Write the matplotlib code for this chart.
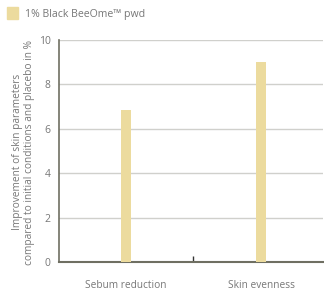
import matplotlib
matplotlib.use("Agg")

import matplotlib.pyplot as plt
from matplotlib.patches import Patch

categories = ["Sebum reduction", "Skin evenness"]
values = [6.85, 9.0]
series_name = "1% Black BeeOme\u2122 pwd"
yticks = [0, 2, 4, 6, 8, 10]

BAR = "#ecdb9e"
GRID = "#d0d0cc"
AXIS = "#6f6f62"
TEXT = "#777777"

plt.rcParams["font.family"] = ["Open Sans", "DejaVu Sans"]
plt.rcParams["font.size"] = 7.3

fig = plt.figure(figsize=(3.24, 2.95), dpi=100)
ax = fig.add_axes([0.182, 0.112, 0.815, 0.752])
ax.set_axisbelow(True)

pos = list(range(len(categories)))
ax.bar(pos, values, width=0.08, color=BAR, zorder=3)

ax.set_ylim(0, 10)
ax.set_xlim(-0.496, 1.459)
ax.set_yticks(yticks)
ax.set_yticklabels([str(t) for t in yticks], color=TEXT, fontsize=7.5)
ax.tick_params(axis="y", length=0, pad=6)
ax.yaxis.grid(True, color=GRID, lw=1.0)

ax.set_xticks(pos)
ax.set_xticklabels(categories, color=TEXT)
ax.tick_params(axis="x", length=0, pad=13)
ax.set_xticks([0.5], minor=True)
ax.tick_params(axis="x", which="minor", direction="in", length=4, width=1, color="#333333")

for side in ["top", "right"]:
    ax.spines[side].set_visible(False)
ax.spines["left"].set_color(AXIS)
ax.spines["left"].set_linewidth(1.2)
ax.spines["bottom"].set_color(AXIS)
ax.spines["bottom"].set_linewidth(1.5)

ax.set_ylabel("Improvement of skin parameters\ncompared to initial conditions and placebo in %",
              color=TEXT, fontsize=7.3, linespacing=1.15)
ax.yaxis.set_label_coords(-0.090, 0.495)

fig.legend(handles=[Patch(color=BAR, label=series_name)], loc="upper left",
           bbox_to_anchor=(0.0, 1.0), frameon=False, handlelength=1.0, handleheight=1.3,
           handletextpad=0.7, fontsize=7.6, labelcolor=TEXT, borderaxespad=0.3)

fig.savefig("out.png", dpi=100)
